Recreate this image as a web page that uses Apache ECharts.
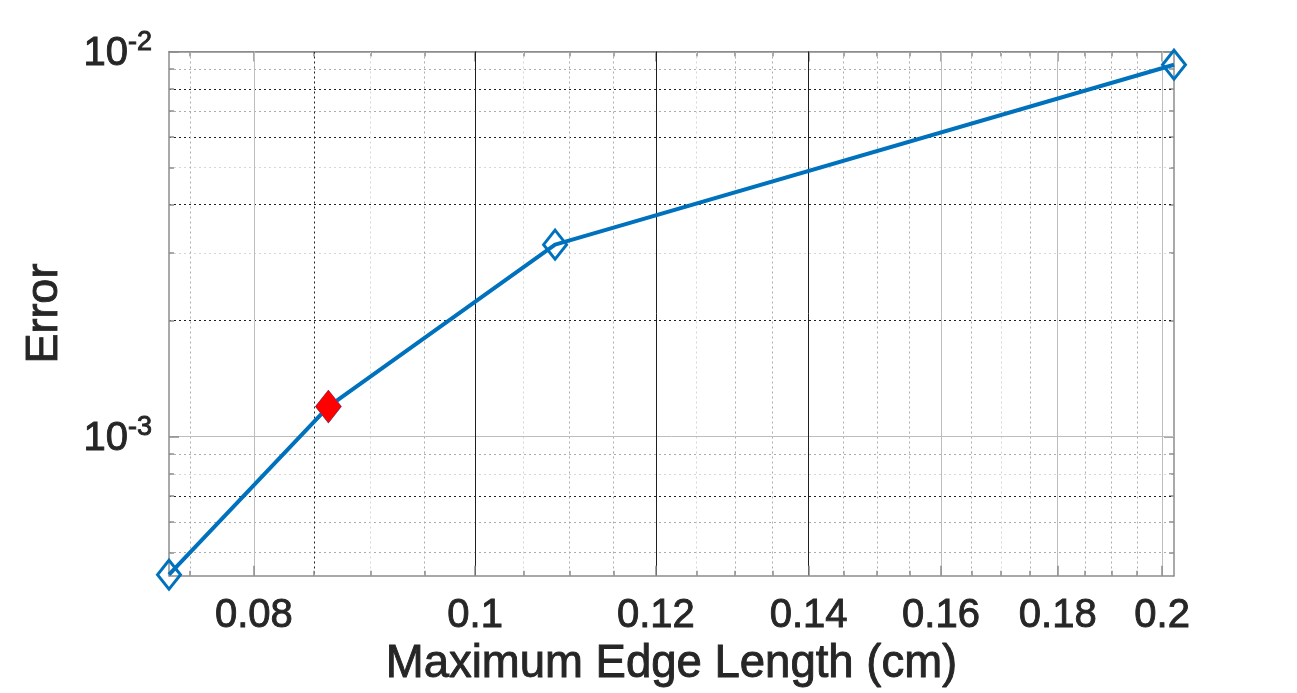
<!DOCTYPE html>
<html><head><meta charset="utf-8">
<script src="https://cdn.jsdelivr.net/npm/echarts@6/dist/echarts.min.js"></script>
<style>html,body{margin:0;padding:0;background:#fff}#c{width:1297px;height:693px}</style>
</head><body><div id="c"></div>
<script>
// ---- data ----
const edgeLength = [0.07343, 0.08624, 0.1084, 0.2024];
const errorValues = [4.377e-4, 1.196e-3, 3.15e-3, 9.24e-3];
const highlightIndex = 1;
const xMajorTicks = [0.08, 0.1, 0.12, 0.14, 0.16, 0.18, 0.2];
const xMajorLabels = ['0.08', '0.1', '0.12', '0.14', '0.16', '0.18', '0.2'];
const xMinorTicks = [0.075, 0.085, 0.09, 0.095, 0.105, 0.11, 0.115, 0.125, 0.13, 0.135, 0.145, 0.15, 0.155, 0.165, 0.17, 0.175, 0.185, 0.19, 0.195];
const yMajorTicks = [0.001, 0.01];
const yMajorExponents = ['-3', '-2'];
const yMinorTicks = [5e-4, 6e-4, 7e-4, 8e-4, 9e-4, 2e-3, 3e-3, 4e-3, 5e-3, 6e-3, 7e-3, 8e-3, 9e-3];
const xRange = [0.07343, 0.2024];
const yRange = [4.35e-4, 0.01];

// ---- styles ----
const AX = '#8c8c8c', TXT = '#262626', FONT = 'Liberation Sans, Arial, sans-serif';
const DARK = '#1f1f1f', GRAY = '#acacac', LIGHT = '#d6d6d6', MAJ_LIGHT = '#bdbdbd';
const xMajorColors = [MAJ_LIGHT, DARK, DARK, DARK, MAJ_LIGHT, MAJ_LIGHT, MAJ_LIGHT];
const xMinorColors = xMinorTicks.map(v => {
  if (Math.abs(v - 0.085) < 1e-9) return DARK;
  if ([0.09, 0.105, 0.125, 0.17].some(t => Math.abs(t - v) < 1e-9)) return LIGHT;
  return GRAY;
});
const yMajorColors = [MAJ_LIGHT, AX];
const yMinorColors = yMinorTicks.map(v => {
  if ([7e-4, 2e-3, 4e-3, 6e-3, 8e-3].some(t => Math.abs(t - v) < 1e-12)) return DARK;
  if ([8e-4, 5e-3, 3e-3].some(t => Math.abs(t - v) < 1e-12)) return LIGHT;
  return GRAY;
});
const DOT = [2, 3];
const TSTROKE = { textBorderColor: TXT, textBorderWidth: 0.9 };

function findIdx(arr, v) {
  let best = 0, bd = Infinity;
  arr.forEach((t, i) => { const d = Math.abs(Math.log(t) - Math.log(v)); if (d < bd) { bd = d; best = i; } });
  return best;
}

function baseAxis(range, pos) {
  return {
    type: 'log', logBase: 10, min: range[0], max: range[1], position: pos,
    axisLine: { show: false },
    axisTick: { show: false },
    axisLabel: { show: false },
    splitLine: { show: false },
    minorTick: { show: false }, minorSplitLine: { show: false }
  };
}

function tickAxis(range, pos, ticks, len, showLine) {
  const a = baseAxis(range, pos);
  a.axisLine = { show: showLine, onZero: false, lineStyle: { color: AX, width: 1.5 } };
  a.axisTick = { show: true, inside: true, length: len, customValues: ticks, lineStyle: { color: AX, width: 1.5 } };
  return a;
}

// x axes
const x0 = tickAxis(xRange, 'bottom', xMajorTicks, 10, true);
x0.axisLabel = Object.assign({
  show: true, customValues: xMajorTicks, margin: 20,
  fontSize: 40, fontFamily: FONT, color: TXT,
  formatter: v => xMajorLabels[findIdx(xMajorTicks, v)]
}, TSTROKE);
x0.splitLine = { show: true, lineStyle: { color: xMajorColors, width: 1, type: 'solid' } };
x0.name = 'Maximum Edge Length (cm)';
x0.nameLocation = 'middle';
x0.nameGap = 64;
x0.nameTextStyle = Object.assign({ fontSize: 45.5, fontFamily: FONT, color: TXT }, TSTROKE);
x0.z = 3;

const x1 = tickAxis(xRange, 'bottom', xMinorTicks, 5, false);
x1.splitLine = { show: true, lineStyle: { color: xMinorColors, width: 1, type: DOT } };
x1.z = 2;
const x2 = tickAxis(xRange, 'top', xMajorTicks, 10, true);
const x3 = tickAxis(xRange, 'top', xMinorTicks, 5, false);

// y axes
const y0 = tickAxis(yRange, 'left', yMajorTicks, 10, true);
y0.axisLabel = {
  show: true, customValues: yMajorTicks, margin: 17,
  fontFamily: FONT, color: TXT,
  formatter: v => '{n|10}{s|' + yMajorExponents[findIdx(yMajorTicks, v)] + '}',
  rich: {
    n: Object.assign({ fontSize: 40, fontFamily: FONT, color: TXT, lineHeight: 45, verticalAlign: 'bottom' }, TSTROKE),
    s: Object.assign({ fontSize: 27, fontFamily: FONT, color: TXT, lineHeight: 30, verticalAlign: 'top' }, TSTROKE)
  }
};
y0.splitLine = { show: true, lineStyle: { color: yMajorColors, width: 1, type: 'solid' } };
y0.name = 'Error';
y0.nameLocation = 'middle';
y0.nameGap = 102;
y0.nameTextStyle = Object.assign({ fontSize: 45, fontFamily: FONT, color: TXT }, TSTROKE);
y0.z = 3;

const y1 = tickAxis(yRange, 'left', yMinorTicks, 5, false);
y1.splitLine = { show: true, lineStyle: { color: yMinorColors, width: 1, type: DOT } };
y1.z = 2;
const y2 = tickAxis(yRange, 'right', yMajorTicks, 10, true);
const y3 = tickAxis(yRange, 'right', yMinorTicks, 5, false);

const chart = echarts.init(document.getElementById('c'), null, { renderer: 'canvas' });
chart.setOption({
  animation: false,
  backgroundColor: '#ffffff',
  grid: { left: 169, top: 51.5, right: 123, bottom: 116 },
  xAxis: [x0, x1, x2, x3],
  yAxis: [y0, y1, y2, y3],
  series: [
    {
      type: 'line', xAxisIndex: 0, yAxisIndex: 0,
      data: edgeLength.map((x, i) => [x, errorValues[i]]),
      symbol: 'diamond', symbolSize: [23, 29], showAllSymbol: true,
      lineStyle: { color: '#0072BD', width: 4 },
      itemStyle: { color: 'rgba(255,255,255,0)', borderColor: '#0072BD', borderWidth: 3, opacity: 1 },
      clip: false, z: 5, emphasis: { disabled: true }
    },
    {
      type: 'scatter', xAxisIndex: 0, yAxisIndex: 0,
      data: [[edgeLength[highlightIndex], errorValues[highlightIndex]]],
      symbol: 'diamond', symbolSize: [26, 33],
      itemStyle: { color: '#ff0000', opacity: 1 },
      clip: false, z: 6, emphasis: { disabled: true }
    }
  ]
});
</script>
</body></html>
